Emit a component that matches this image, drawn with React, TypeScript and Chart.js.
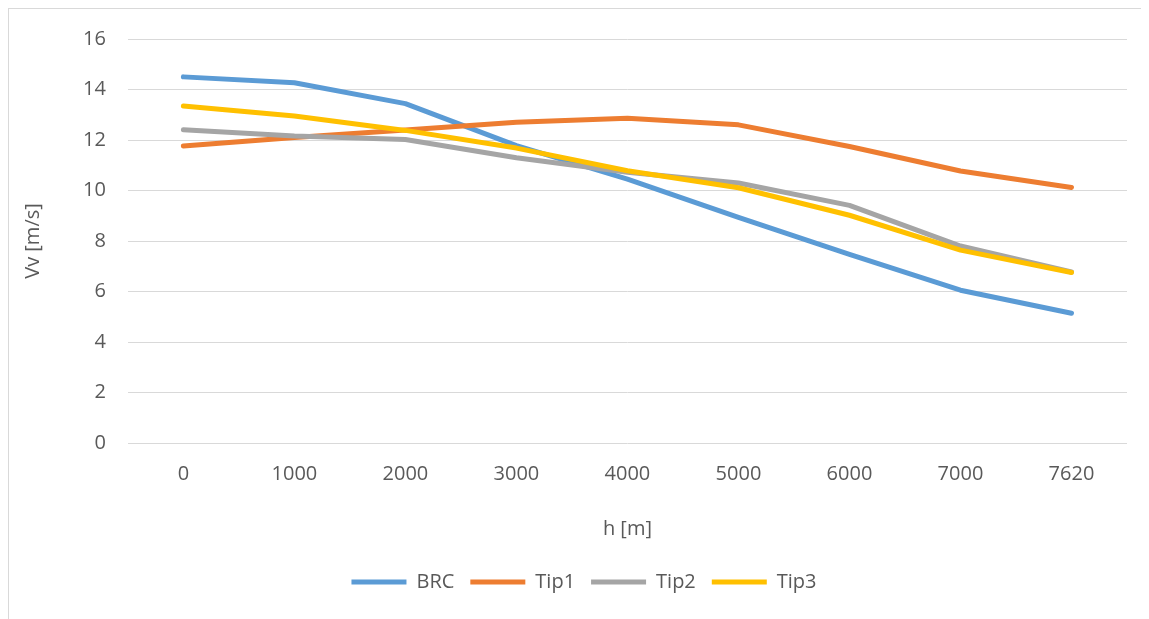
import React, { useEffect, useRef } from "react";
import { Chart, registerables } from "chart.js";

Chart.register(...registerables);

const categories = ["0", "1000", "2000", "3000", "4000", "5000", "6000", "7000", "7620"];
const brc = [14.5, 14.27, 13.44, 11.78, 10.45, 8.94, 7.47, 6.05, 5.14];
const tip1 = [11.76, 12.1, 12.4, 12.7, 12.86, 12.6, 11.74, 10.77, 10.12];
const tip2 = [12.41, 12.16, 12.02, 11.3, 10.72, 10.3, 9.41, 7.8, 6.77];
const tip3 = [13.35, 12.95, 12.38, 11.68, 10.78, 10.11, 9.02, 7.64, 6.75];
const yTicks = [0, 2, 4, 6, 8, 10, 12, 14, 16];

const FONT = "'Open Sans', sans-serif";
const TEXT = "#595959";

const legendShift = {
  id: "legendShift",
  afterLayout(chart: any) {
    if (chart.legend) {
      chart.legend.left += 10;
      chart.legend.right += 10;
    }
  },
};

export default function App() {
  const ref = useRef<HTMLCanvasElement | null>(null);
  useEffect(() => {
    if (!ref.current) return;
    const mk = (label: string, data: number[], color: string, order: number) => ({
      label,
      data,
      borderColor: color,
      backgroundColor: color,
      borderWidth: 5,
      borderCapStyle: "round" as const,
      borderJoinStyle: "round" as const,
      pointRadius: 0,
      pointHoverRadius: 0,
      tension: 0,
      fill: false,
      order,
    });
    const chart = new Chart(ref.current, {
      type: "line",
      data: {
        labels: categories,
        datasets: [
          mk("BRC", brc, "#5B9BD5", 3),
          mk("Tip1", tip1, "#ED7D31", 2),
          mk("Tip2", tip2, "#A5A5A5", 1),
          mk("Tip3", tip3, "#FFC000", 0),
        ],
      },
      plugins: [legendShift],
      options: {
        animation: false,
        responsive: true,
        maintainAspectRatio: false,
        layout: { padding: { top: 0, right: 22, bottom: 17, left: 12 } },
        plugins: {
          tooltip: { enabled: false },
          legend: {
            position: "bottom",
            labels: {
              usePointStyle: true,
              pointStyle: "line",
              pointStyleWidth: 55,
              boxHeight: 20,
              padding: 16,
              color: TEXT,
              font: { family: FONT, size: 20 },
              sort: (a: any, b: any) => a.datasetIndex - b.datasetIndex,
            },
          },
        },
        scales: {
          x: {
            offset: true,
            grid: { display: false },
            border: { display: false },
            ticks: { color: TEXT, font: { family: FONT, size: 20 }, padding: 11 },
            title: {
              display: true,
              text: "h [m]",
              color: TEXT,
              font: { family: FONT, size: 20 },
              padding: { top: 20, bottom: 15 },
            },
          },
          y: {
            min: 0,
            max: 16,
            afterBuildTicks: (axis: any) => {
              axis.ticks = yTicks.map((v) => ({ value: v }));
            },
            afterFit: (axis: any) => {
              axis.paddingTop = 30;
            },
            grid: { color: "#D9D9D9", lineWidth: 1, drawTicks: false },
            border: { display: false },
            ticks: { color: TEXT, font: { family: FONT, size: 20 }, padding: 22 },
            title: {
              display: true,
              text: "Vv [m/s]",
              color: TEXT,
              font: { family: FONT, size: 20 },
              padding: { top: 0, bottom: 16 },
            },
          },
        },
      },
    });
    return () => chart.destroy();
  }, []);
  return (
    <div
      style={{
        width: 1141,
        height: 611,
        borderTop: "1px solid #D9D9D9",
        borderLeft: "1px solid #D9D9D9",
        boxSizing: "border-box",
        position: "relative",
        background: "#fff",
      }}
    >
      <canvas ref={ref} />
    </div>
  );
}
